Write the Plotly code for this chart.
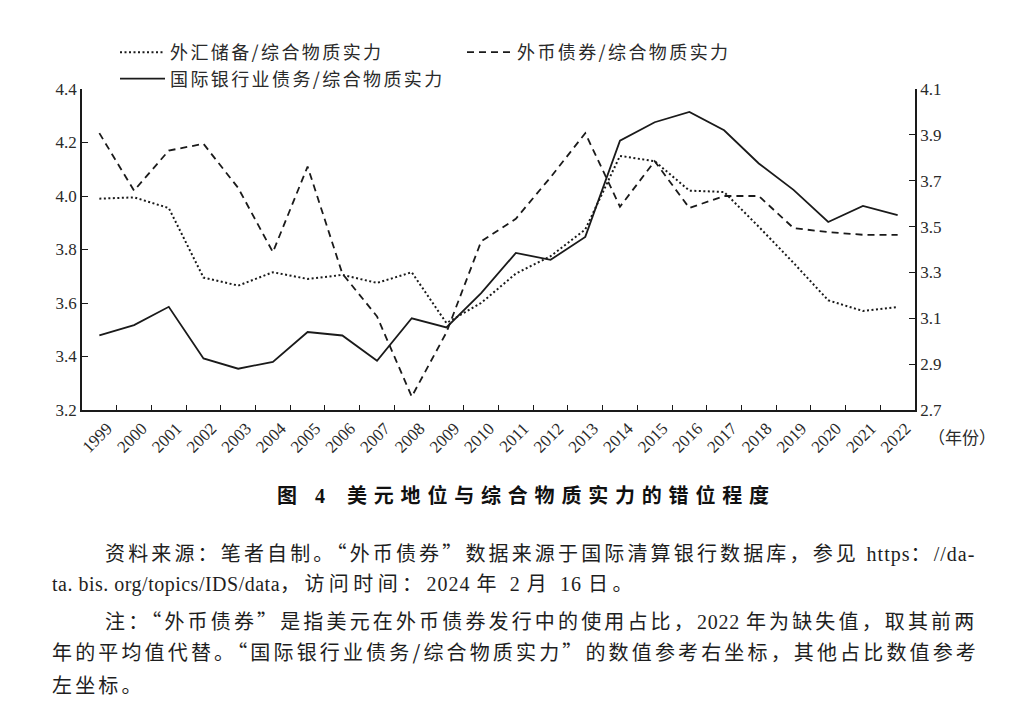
import plotly.graph_objects as go

# ---------------- data ----------------
years = [str(y) for y in range(1999, 2023)]
fx_reserves = [3.99, 3.995, 3.955, 3.695, 3.665, 3.715, 3.69, 3.705, 3.675, 3.715,
               3.525, 3.60, 3.71, 3.775, 3.875, 4.15, 4.13, 4.02, 4.015, 3.885,
               3.75, 3.61, 3.57, 3.585]
fx_bonds = [4.235, 4.02, 4.17, 4.195, 4.03, 3.79, 4.11, 3.71, 3.55, 3.25,
            3.49, 3.83, 3.915, 4.07, 4.235, 3.96, 4.13, 3.955, 4.0, 4.0,
            3.88, 3.865, 3.855, 3.855]
bank_debt = [3.025, 3.07, 3.15, 2.925, 2.88, 2.91, 3.04, 3.025, 2.915, 3.10,
             3.06, 3.21, 3.385, 3.355, 3.455, 3.875, 3.955, 4.0, 3.92, 3.775,
             3.66, 3.52, 3.59, 3.55]
left_ticks = [3.2, 3.4, 3.6, 3.8, 4.0, 4.2, 4.4]
right_ticks = [2.7, 2.9, 3.1, 3.3, 3.5, 3.7, 3.9, 4.1]

names = ["外汇储备/综合物质实力", "外币债券/综合物质实力", "国际银行业债务/综合物质实力"]

# ---------------- layout geometry ----------------
W, H = 1023, 723
L, R, T, B = 82, 108, 89, 313
PW, PH = W - L - R, H - T - B

def px(x):
    return (x - L) / PW

def py(y):
    return (H - B - y) / PH

SERIF = "Liberation Serif, Noto Sans CJK SC, serif"
CJK = "Noto Sans CJK SC, sans-serif"
TXT = "#2a2a2a"
LINE = "#1a1a1a"

def legname(n):
    return "<span style='letter-spacing:2.4px'>" + n + "</span>"

fig = go.Figure()
fig.add_trace(go.Scatter(x=years, y=fx_reserves, name=legname(names[0]), mode="lines",
                         line=dict(color=LINE, width=2, dash="2px,2.5px")))
fig.add_trace(go.Scatter(x=years, y=fx_bonds, name=legname(names[1]), mode="lines",
                         line=dict(color=LINE, width=1.8, dash="7px,5px")))
fig.add_trace(go.Scatter(x=years, y=bank_debt, name=legname(names[2]), mode="lines", yaxis="y2",
                         line=dict(color=LINE, width=1.8)))

fig.update_layout(
    width=W, height=H,
    margin=dict(l=L, r=R, t=T, b=B, autoexpand=False),
    paper_bgcolor="white", plot_bgcolor="white",
    font=dict(family=SERIF, color=TXT, size=15),
    showlegend=True,
    legend=dict(orientation="h", x=px(115), xanchor="left", y=py(34), yanchor="top",
                entrywidth=287, entrywidthmode="pixels", itemwidth=45,
                font=dict(family=CJK, size=18, color=TXT), bgcolor="rgba(0,0,0,0)",
                tracegroupgap=0, itemclick=False),
    xaxis=dict(type="category", range=[-0.5, 23.5], tickson="boundaries",
               ticks="inside", ticklen=5, tickcolor=LINE, tickwidth=1.3,
               showline=True, linecolor=LINE, linewidth=1.6, showgrid=False,
               tickangle=-45, tickfont=dict(family=SERIF, size=17, color=TXT),
               ticklabelshift=8, zeroline=False),
    yaxis=dict(range=[3.2, 4.4], tickvals=left_ticks, tickformat=".1f",
               ticks="inside", ticklen=6, tickcolor=LINE, tickwidth=1.3,
               showline=True, linecolor=LINE, linewidth=1.6, showgrid=False,
               zeroline=False, tickfont=dict(family=SERIF, size=17, color=TXT)),
    yaxis2=dict(range=[2.7, 4.1], tickvals=right_ticks, tickformat=".1f",
                overlaying="y", side="right",
                ticks="inside", ticklen=6, tickcolor=LINE, tickwidth=1.3,
                showline=True, linecolor=LINE, linewidth=1.6, showgrid=False,
                zeroline=False, tickfont=dict(family=SERIF, size=17, color=TXT)),
)

def cj(t, ls):
    return "<span style='font-family:Noto Sans CJK SC;letter-spacing:%.2fpx'>%s</span>" % (ls, t)

def la(t, ls=0.3):
    return "<span style='font-family:Liberation Serif;letter-spacing:%.2fpx'>%s</span>" % (ls, t)

anns = []
anns.append(dict(text=cj("（年份）", 0), x=px(926), y=py(437), xanchor="left", yanchor="middle",
                 font=dict(family=CJK, size=17, color=TXT)))
anns.append(dict(text="<b>" + cj("图", 7) + la(" 4\u2002", 6) + cj("美元地位与综合物质实力的错位程度", 6.8) + "</b>",
                 x=px(275), y=py(494), xanchor="left", yanchor="middle",
                 font=dict(family=CJK, size=20, color="#111")))

S = 3.15
S2 = 4.4
cap = [
    (103, 552, cj("资料来源：笔者自制。“外币债券”数据来源于国际清算银行数据库，参见 ", S)
               + la("https", 1) + cj("：", S) + la("//da-", 1)),
    (50, 582, la("ta. bis. org/topics/IDS/data", 0.5) + cj("，访问时间：", S2) + la("2024 ", 1)
              + cj("年 ", S2) + la("2 ", 1) + cj("月 ", S2) + la("16 ", 1) + cj("日。", S2)),
    (103, 620, cj("注：“外币债券”是指美元在外币债券发行中的使用占比，", S) + la("2022 ", 0.8)
               + cj("年为缺失值，取其前两", S)),
    (50, 651, cj("年的平均值代替。“国际银行业债务/综合物质实力”的数值参考右坐标，其他占比数值参考", S)),
    (50, 684, cj("左坐标。", S)),
]
for x0, y0, t in cap:
    anns.append(dict(text=t, x=px(x0), y=py(y0), xanchor="left", yanchor="middle",
                     font=dict(family=SERIF, size=20, color="#1e1e1e")))

for a in anns:
    a.update(xref="paper", yref="paper", showarrow=False)
fig.update_layout(annotations=anns)

fig.write_html("out.html")
